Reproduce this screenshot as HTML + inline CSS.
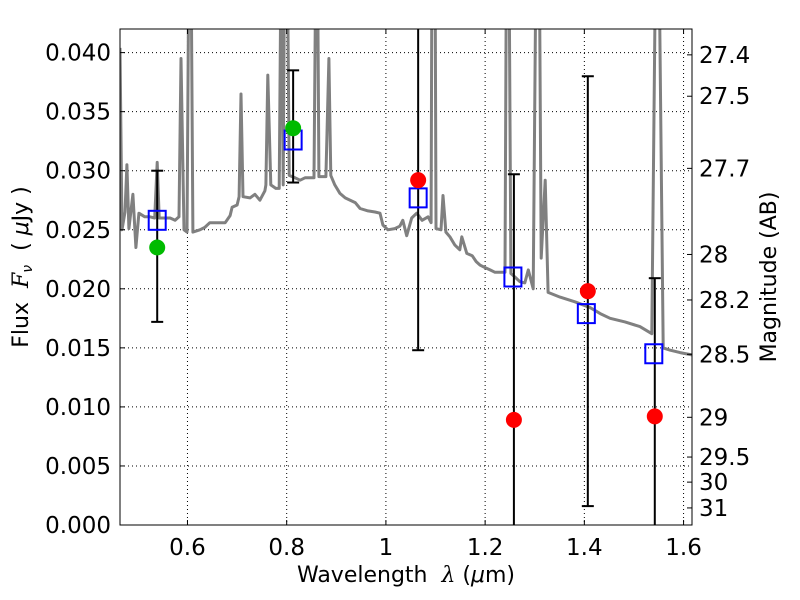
<!DOCTYPE html>
<html><head><meta charset="utf-8"><style>
html,body{margin:0;padding:0;background:#fff;width:800px;height:600px;overflow:hidden;}
svg{display:block;font-family:"DejaVu Sans","Liberation Sans",sans-serif;}
</style></head><body>
<svg id="chart" width="800" height="600" viewBox="0 0 800 600" xmlns="http://www.w3.org/2000/svg">
<defs><clipPath id="clip"><rect x="120" y="29" width="572" height="496"/></clipPath></defs>
<rect x="0" y="0" width="800" height="600" fill="#fff"/>
<g id="grid"></g>
<g id="spec" clip-path="url(#clip)"></g>
<g id="marks" clip-path="url(#clip)"></g>
<rect x="120" y="29" width="572" height="496" fill="none" stroke="#000" stroke-width="1"/>
<g id="axes"></g>
<text x="406" y="582" font-size="22" text-anchor="middle">Wavelength&#160;&#160;<tspan font-family="DejaVu Serif, serif" font-style="italic">λ</tspan> (<tspan font-style="italic">μ</tspan>m)</text>
<text transform="translate(28,267) rotate(-90)" font-size="22" text-anchor="middle">Flux&#160;&#160;<tspan font-family="DejaVu Serif, serif" font-style="italic">F</tspan><tspan font-style="italic" font-size="14" dy="4">ν</tspan><tspan dy="-4">&#160;&#160;(&#160;</tspan><tspan font-style="italic">μ</tspan>Jy )</text>
<text transform="translate(776,277) rotate(-90)" font-size="22" text-anchor="middle">Magnitude (AB)</text>
</svg>
<script>
const specWl=[0.464,0.468,0.474,0.478,0.482,0.490,0.496,0.502,0.514,0.524,0.534,0.539,0.543,0.565,0.575,0.583,0.587,0.593,0.599,0.603,0.607,0.611,0.625,0.635,0.645,0.666,0.676,0.686,0.690,0.700,0.704,0.708,0.712,0.726,0.736,0.746,0.756,0.758,0.762,0.768,0.778,0.785,0.789,0.793,0.796,0.801,0.805,0.817,0.827,0.837,0.855,0.859,0.862,0.865,0.879,0.885,0.889,0.897,0.907,0.918,0.928,0.938,0.948,0.964,0.978,0.988,0.994,1.004,1.018,1.028,1.034,1.042,1.052,1.062,1.073,1.085,1.091,1.093,1.099,1.101,1.111,1.115,1.121,1.129,1.139,1.149,1.153,1.163,1.174,1.182,1.190,1.200,1.210,1.220,1.240,1.243,1.248,1.252,1.260,1.270,1.280,1.287,1.297,1.303,1.309,1.313,1.321,1.327,1.351,1.381,1.412,1.432,1.452,1.482,1.512,1.536,1.544,1.550,1.559,1.573,1.593,1.617];
const specFlux=[0.0404,0.0250,0.0265,0.0305,0.0251,0.0280,0.0235,0.0264,0.0261,0.0261,0.0260,0.0307,0.0260,0.0260,0.0258,0.0261,0.0395,0.0250,0.0248,0.05,0.05,0.0248,0.0250,0.0252,0.0256,0.0256,0.0256,0.0262,0.0269,0.0271,0.0278,0.0365,0.0278,0.0277,0.0280,0.0275,0.0283,0.0288,0.0381,0.0288,0.0285,0.0285,0.05,0.0288,0.05,0.05,0.0296,0.0294,0.0292,0.0294,0.0294,0.05,0.05,0.0295,0.0295,0.0395,0.0296,0.0288,0.0281,0.0277,0.0275,0.0273,0.0268,0.0266,0.0265,0.0264,0.0254,0.0250,0.0251,0.0253,0.0258,0.0245,0.0260,0.0264,0.0258,0.0261,0.0256,0.05,0.05,0.0251,0.0250,0.0279,0.0248,0.0244,0.0237,0.0233,0.0244,0.0230,0.0228,0.0223,0.0220,0.0218,0.0216,0.0214,0.0214,0.05,0.05,0.0213,0.0210,0.0206,0.0205,0.0216,0.0200,0.05,0.05,0.0226,0.0292,0.0197,0.0193,0.0189,0.0184,0.0179,0.0175,0.0172,0.0168,0.0162,0.05,0.05,0.0150,0.0148,0.0146,0.0144];
const modelWl=[0.539,0.813,1.065,1.256,1.404,1.540];
const modelFlux=[0.0258,0.0326,0.0277,0.0210,0.0179,0.0145];
const greenWl=[0.539,0.813];
const greenFlux=[0.0235,0.0336];
const redWl=[1.065,1.258,1.407,1.542];
const redFlux=[0.0292,0.0089,0.0198,0.0092];
const errWl=[0.539,0.813,1.065,1.258,1.407,1.542];
const errLo=[0.0172,0.0290,0.0148,-0.012,0.0016,-0.0025];
const errHi=[0.0300,0.0385,0.0436,0.0297,0.0380,0.0209];
const xTicks=[0.6,0.8,1.0,1.2,1.4,1.6];
const xTickLabels=["0.6","0.8","1","1.2","1.4","1.6"];
const yTicks=[0,0.005,0.010,0.015,0.020,0.025,0.030,0.035,0.040];
const yTickLabels=["0.000","0.005","0.010","0.015","0.020","0.025","0.030","0.035","0.040"];
const magTicks=[27.4,27.5,27.7,28,28.2,28.5,29,29.5,30,31];
const magLabels=["27.4","27.5","27.7","28","28.2","28.5","29","29.5","30","31"];

const X0=120,X1=692,Y0=525,Y1=29,XMIN=0.464,XMAX=1.617,YMIN=0,YMAX=0.042;
const sx=v=>X0+(v-XMIN)/(XMAX-XMIN)*(X1-X0);
const sy=v=>Y0-(v-YMIN)/(YMAX-YMIN)*(Y0-Y1);
const NS="http://www.w3.org/2000/svg";
function mk(tag,attrs,parent){const e=document.createElementNS(NS,tag);for(const k in attrs)e.setAttribute(k,attrs[k]);parent.appendChild(e);return e;}
const grid=document.getElementById('grid'),axes=document.getElementById('axes'),spec=document.getElementById('spec'),marks=document.getElementById('marks');

xTicks.forEach((t,i)=>{
  const x=sx(t);
  const g=mk('line',{x1:x,x2:x,y1:Y1,y2:Y0,stroke:'#000','stroke-width':1,'stroke-dasharray':'1,3'},grid);
  
  
  mk('line',{x1:x,x2:x,y1:Y0,y2:Y0-5,stroke:'#000'},axes);
  mk('line',{x1:x,x2:x,y1:Y1,y2:Y1+5,stroke:'#000'},axes);
  const tx=mk('text',{x:x,y:Y0+30,'font-size':23,'text-anchor':'middle'},axes);
  tx.textContent=xTickLabels[i];
  
  
});
yTicks.forEach((t,i)=>{
  const y=sy(t);
  const g=mk('line',{x1:X0,x2:X1,y1:y,y2:y,stroke:'#000','stroke-width':1,'stroke-dasharray':'1,3'},grid);
  
  
  mk('line',{x1:X0,x2:X0+5,y1:y,y2:y,stroke:'#000'},axes);
  const tx=mk('text',{x:X0-9,y:y+8,'font-size':23,'text-anchor':'end'},axes);
  tx.textContent=yTickLabels[i];
  
  
});
magTicks.forEach((m,i)=>{
  const f=Math.pow(10,(23.9-m)/2.5);
  const y=sy(f);
  mk('line',{x1:X1-5,x2:X1,y1:y,y2:y,stroke:'#000'},axes);
  const tx=mk('text',{x:X1+7,y:y+8,'font-size':23,'text-anchor':'start'},axes);
  tx.textContent=magLabels[i];
  
  
});

const pts=specWl.map((w,i)=>sx(w).toFixed(1)+','+sy(specFlux[i]).toFixed(1)).join(' ');
const pl=mk('polyline',{points:pts,fill:'none',stroke:'#808080','stroke-width':3,'stroke-linejoin':'round'},spec);



errWl.forEach((w,i)=>{
  const x=sx(w),y1=sy(errHi[i]),y2=sy(errLo[i]);
  const l=mk('line',{x1:x,x2:x,y1:y1,y2:y2,stroke:'#000','stroke-width':2},marks);
  
  
  mk('line',{x1:x-6,x2:x+6,y1:y1,y2:y1,stroke:'#000','stroke-width':2},marks);
  mk('line',{x1:x-6,x2:x+6,y1:y2,y2:y2,stroke:'#000','stroke-width':2},marks);
});
modelWl.forEach((w,i)=>{
  const r=mk('rect',{x:sx(w)-8.5,y:sy(modelFlux[i])-9.5,width:17,height:19,fill:'none',stroke:'#0000ff','stroke-width':2},marks);
  
  
});
greenWl.forEach((w,i)=>{
  const c=mk('circle',{cx:sx(w),cy:sy(greenFlux[i]),r:8,fill:'#00bb00'},marks);
  
  
});
redWl.forEach((w,i)=>{
  const c=mk('circle',{cx:sx(w),cy:sy(redFlux[i]),r:8,fill:'#ff0000'},marks);
  
  
});
</script>
</body></html>
